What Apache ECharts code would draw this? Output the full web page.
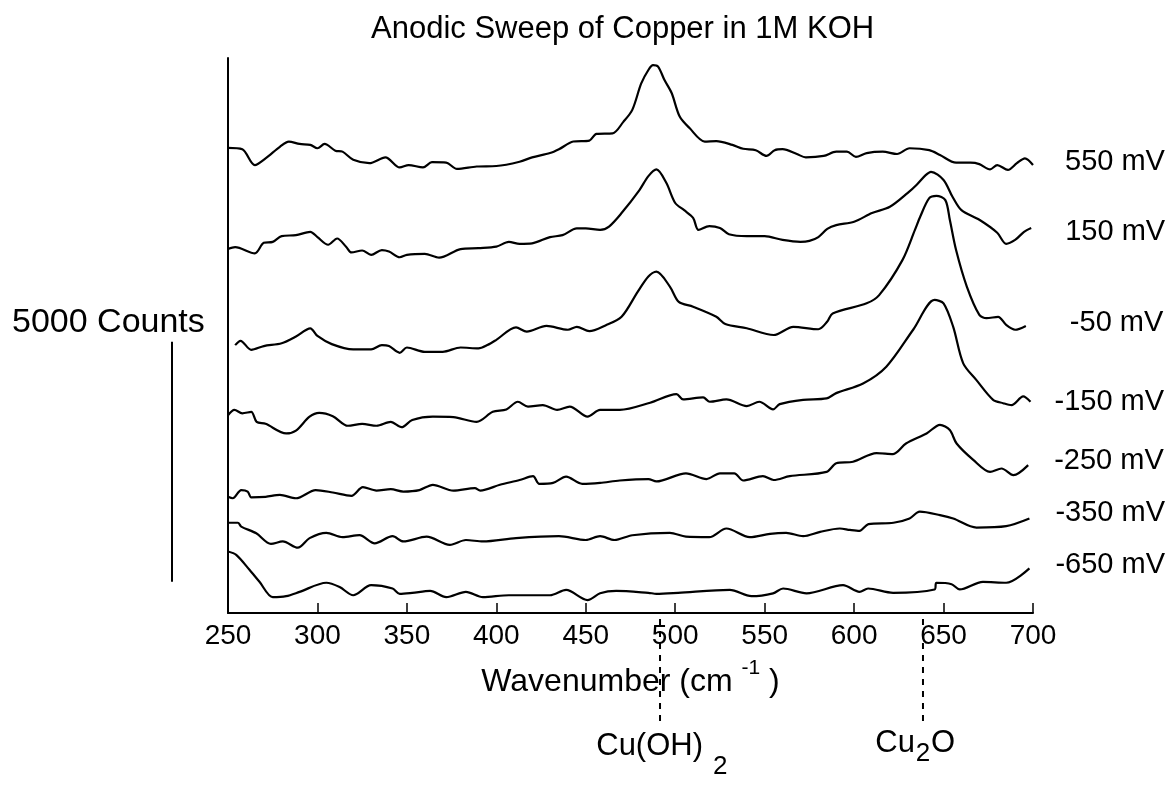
<!DOCTYPE html>
<html><head><meta charset="utf-8">
<script src="https://cdn.jsdelivr.net/npm/echarts@6/dist/echarts.min.js"></script>
<style>html,body{margin:0;padding:0;background:#fff}#c{width:1172px;height:791px}</style>
</head><body><div id="c"></div>
<script>
// ---- data (wavenumber cm^-1, counts; traces are offset vertically) ----
const titleText = 'Anodic Sweep of Copper in 1M KOH';
const seriesNames = ['550 mV', '150 mV', '-50 mV', '-150 mV', '-250 mV', '-350 mV', '-650 mV'];
const xMin = 250, xMax = 700, xStep = 50;
const s550 = [[250,9690],[258,9660],[265,9330],[271,9470],[279,9710],[284,9820],[290,9770],[296,9750],[300,9680],[304,9770],[310,9630],[314,9610],[320,9440],[329,9370],[338,9490],[346,9280],[351,9330],[359,9280],[364,9390],[372,9380],[378,9250],[389,9300],[400,9310],[413,9400],[420,9490],[430,9580],[435,9660],[443,9820],[452,9840],[456,9980],[465,9990],[471,10230],[476,10480],[481,11030],[485,11310],[487.6,11410],[490.4,11380],[494,11100],[498,10830],[502.5,10340],[508,10100],[516.5,9820],[523,9830],[532,9750],[538,9670],[545,9640],[551,9520],[555.6,9640],[560,9660],[568,9560],[573,9490],[583,9520],[590,9610],[596,9610],[601,9500],[607,9580],[616,9610],[624,9560],[631,9680],[642,9640],[648,9540],[657,9380],[665,9380],[670,9350],[676,9240],[680,9330],[686,9230],[691,9370],[695.5,9470],[700,9330]];
const s150 = [[250,7580],[254,7620],[265,7490],[270,7710],[275,7730],[280,7850],[288,7870],[296,7940],[300,7830],[306,7670],[311,7800],[316,7630],[319,7510],[325,7550],[330,7460],[336,7560],[340,7530],[346,7410],[350,7460],[360,7480],[368,7400],[380,7580],[390,7600],[400,7630],[407,7730],[413,7690],[420,7700],[430,7830],[437,7870],[445,8010],[450,8010],[458,7980],[463,8050],[470,8330],[480,8810],[485,9100],[489.5,9240],[495,8960],[500,8540],[505,8390],[510,8230],[513,7980],[519,8060],[525,8020],[530,7890],[540,7850],[550,7850],[560,7770],[570,7730],[575,7750],[580,7830],[585,8000],[590,8080],[600,8150],[610,8330],[620,8460],[630,8750],[635,8920],[640,9120],[643,9190],[650,9020],[655,8670],[660,8390],[670,8190],[680,7920],[685,7690],[690,7770],[695,7940],[699,8020]];
const sN50 = [[254,5580],[257,5670],[263,5480],[270,5560],[280,5620],[288,5760],[296,5930],[300,5770],[308,5600],[320,5490],[330,5490],[336,5580],[340,5560],[346,5420],[350,5530],[360,5440],[370,5440],[380,5530],[390,5510],[395,5580],[400,5690],[411,5950],[417,5860],[428,5980],[440,5900],[445,5960],[452,5870],[461,5990],[470,6170],[479,6690],[485,7010],[489.5,7110],[497,6800],[502,6480],[510,6380],[523,6170],[528,6020],[540,5930],[555,5790],[566,5960],[580,5910],[585,6070],[588,6240],[607,6450],[614,6620],[627,7350],[634,7980],[637,8260],[642,8640],[646,8690],[651,8600],[653.5,8190],[657,7560],[663,6800],[670,6210],[674,6140],[680.5,6170],[685,6000],[690,5900],[696,5980]];
const sN150 = [[250,4120],[253.6,4230],[258,4160],[263,4190],[266,3980],[271,3940],[282.5,3740],[288,3800],[295.6,4090],[301,4170],[308.6,4100],[317,3900],[325,3940],[333,3900],[341,3980],[347,3870],[353,4020],[364.5,4090],[376,4080],[389,3980],[398,4190],[405.6,4240],[412,4400],[417.7,4300],[426,4330],[434,4230],[441,4300],[451,4090],[458,4230],[469,4230],[486,4380],[500.7,4560],[504.4,4450],[515.6,4490],[519.3,4400],[528.6,4450],[540,4310],[547,4400],[554.7,4240],[558.4,4350],[571.5,4440],[584.6,4470],[590,4580],[605,4780],[618,5130],[633,5900],[645,6520],[650,6450],[655.4,5960],[661,5200],[668.4,4850],[677.7,4440],[683.3,4370],[688,4330],[694.5,4510],[698.6,4400]];
const sN250 = [[250,2420],[252.7,2390],[257.4,2560],[261,2530],[263,2410],[271,2420],[279,2460],[288,2390],[299,2560],[308.6,2510],[319,2440],[325.4,2620],[333,2550],[341,2580],[348,2530],[357,2560],[364.5,2670],[376,2550],[388,2600],[391,2550],[402,2670],[413,2770],[420.5,2850],[424,2690],[431.7,2710],[439,2840],[448,2690],[458,2710],[469,2760],[485,2790],[489.5,2740],[506,2910],[517.5,2790],[525,2910],[533,2910],[538,2760],[549,2850],[555,2770],[564,2850],[584.6,2940],[590,3120],[599.4,3150],[612.5,3330],[621.8,3310],[629,3530],[640.5,3740],[648,3920],[653.5,3810],[657.3,3530],[666.6,3190],[676,2940],[682.4,3010],[689,2870],[697.3,3080]];
const sN350 = [[250,1880],[255.5,1880],[257.4,1800],[265.8,1660],[274,1440],[280.6,1490],[289,1360],[295.6,1560],[305,1670],[314,1580],[323.5,1620],[332,1450],[342,1600],[348,1490],[361,1590],[374,1420],[383,1520],[392.5,1490],[411,1560],[435,1600],[450,1520],[458,1600],[466,1520],[476,1620],[497,1670],[506,1590],[519,1580],[528.6,1760],[541.7,1580],[553,1650],[562,1670],[571.5,1600],[581,1690],[592,1760],[597.6,1730],[603,1710],[608,1850],[622,1880],[631,1970],[636.7,2110],[648,2040],[655.4,1970],[668.4,1780],[685,1810],[698,1970]];
const sN650 = [[250,1280],[254.6,1210],[262,900],[267.6,650],[275,330],[282.5,350],[290,440],[305,630],[312.4,540],[320,370],[330,580],[342,510],[346,400],[353,420],[363,460],[372,330],[383,440],[392.5,330],[407,370],[430,370],[439,480],[451,270],[458,410],[467,460],[485,420],[489.5,400],[501.6,420],[530.5,480],[542.6,350],[554.7,410],[560.3,510],[573.4,410],[593.8,580],[603,440],[607.8,510],[621.8,420],[645,490],[646,630],[654.5,600],[659,490],[672,650],[685,630],[698,930]];
const traces = [s550, s150, sN50, sN150, sN250, sN350, sN650];
const peakNames = ['Cu(OH)', 'Cu'];
const peakSubs = ['2', '2'];
const peakTails = ['', 'O'];
const peakPositions = [491.5, 638.5];
const scaleBarCounts = [650, 5650];   // 5000 counts
const scaleBarText = '5000 Counts';
const yMax = 11560;

// ---- styles ----
const FONT = '"Liberation Sans", Arial, Helvetica, sans-serif';
const labelOffsets = [[32,-3],[34,4],[44,-3],[24,0],[26,-4],[26,-5],[26,-3]];

const chart = echarts.init(document.getElementById('c'));
chart.setOption({
  animation: false,
  backgroundColor: '#fff',
  title: { text: titleText, left: 366, top: 9,
    textStyle: { fontFamily: FONT, fontSize: 31, fontWeight: 'normal', color: '#000' } },
  grid: { left: 228, right: 139, top: 58, bottom: 178 },
  xAxis: {
    type: 'value', min: xMin, max: xMax, interval: xStep,
    axisLine: { onZero: false, lineStyle: { color: '#000', width: 2 } },
    axisTick: { inside: true, length: 10, lineStyle: { color: '#000', width: 1.5 } },
    axisLabel: { color: '#000', fontSize: 28, fontFamily: FONT, margin: 9 },
    splitLine: { show: false },
    name: 'Wavenumber (cm {sup|-1} )', nameLocation: 'middle', nameGap: 45,
    nameTextStyle: { color: '#000', fontSize: 32, fontFamily: FONT,
      rich: { sup: { fontSize: 21, fontFamily: FONT, color: '#000', padding: [0, 0, 28, 0] } } }
  },
  yAxis: {
    type: 'value', min: 0, max: yMax,
    axisLine: { show: true, lineStyle: { color: '#000', width: 2 } },
    axisTick: { show: false }, axisLabel: { show: false }, splitLine: { show: false }
  },
  series: traces.map((d, i) => ({
    name: seriesNames[i], type: 'line', data: d,
    symbol: 'none', showSymbol: false, smooth: 0.3,
    lineStyle: { color: '#000', width: 2.2 },
    endLabel: { show: true, formatter: '{a}', color: '#000', fontSize: 29, fontFamily: FONT,
      distance: 0, offset: labelOffsets[i] }
  }))
});

// annotations positioned through the axes
const gfx = [];
const barPix = scaleBarCounts.map(v => chart.convertToPixel({ yAxisIndex: 0 }, v));
const axisY = chart.convertToPixel({ yAxisIndex: 0 }, 0);
gfx.push({ type: 'line', silent: true,
  shape: { x1: 172, y1: barPix[0], x2: 172, y2: barPix[1] },
  style: { stroke: '#000', lineWidth: 2 } });
gfx.push({ type: 'text', silent: true,
  style: { text: scaleBarText, x: 12, y: barPix[1] - 19, textAlign: 'left', textVerticalAlign: 'middle',
    font: '34px ' + FONT, fill: '#000' } });
peakPositions.forEach((w, i) => {
  const px = chart.convertToPixel({ xAxisIndex: 0 }, w);
  gfx.push({ type: 'line', silent: true,
    shape: { x1: px, y1: axisY + 6, x2: px, y2: axisY + 110 },
    style: { stroke: '#000', lineWidth: 2, lineDash: [6, 6] } });
});
// Cu(OH)2
{
  const px = chart.convertToPixel({ xAxisIndex: 0 }, peakPositions[0]);
  gfx.push({ type: 'text', silent: true, style: { text: peakNames[0], x: px + 43, y: axisY + 133,
    textAlign: 'right', textVerticalAlign: 'middle', font: '31px ' + FONT, fill: '#000' } });
  gfx.push({ type: 'text', silent: true, style: { text: peakSubs[0], x: px + 53, y: axisY + 154,
    textAlign: 'left', textVerticalAlign: 'middle', font: '26px ' + FONT, fill: '#000' } });
}
// Cu2O
{
  const px = chart.convertToPixel({ xAxisIndex: 0 }, peakPositions[1]);
  gfx.push({ type: 'text', silent: true, style: { text: peakNames[1], x: px - 8, y: axisY + 130,
    textAlign: 'right', textVerticalAlign: 'middle', font: '31px ' + FONT, fill: '#000' } });
  gfx.push({ type: 'text', silent: true, style: { text: peakSubs[1], x: px, y: axisY + 141,
    textAlign: 'center', textVerticalAlign: 'middle', font: '26px ' + FONT, fill: '#000' } });
  gfx.push({ type: 'text', silent: true, style: { text: peakTails[1], x: px + 8, y: axisY + 130,
    textAlign: 'left', textVerticalAlign: 'middle', font: '31px ' + FONT, fill: '#000' } });
}
chart.setOption({ graphic: gfx });
</script>
</body></html>
